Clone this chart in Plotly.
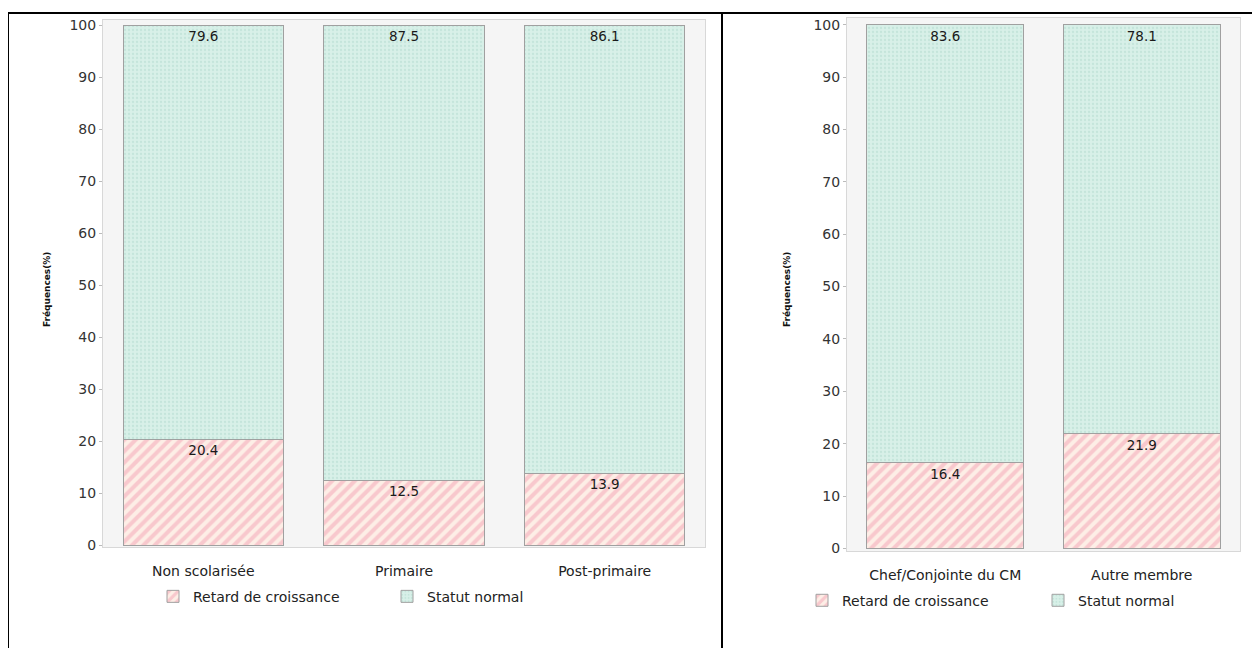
import plotly.graph_objects as go

# Data
cat_left = ["Non scolarisée", "Primaire", "Post-primaire"]
retard_left = [20.4, 12.5, 13.9]
normal_left = [79.6, 87.5, 86.1]

cat_right = ["Chef/Conjointe du CM", "Autre membre"]
retard_right = [16.4, 21.9]
normal_right = [83.6, 78.1]

series_names = ["Retard de croissance", "Statut normal"]
y_ticks = [0, 10, 20, 30, 40, 50, 60, 70, 80, 90, 100]
y_title = "Fréquences(%)"

W, H = 1260, 648
OFF = 8  # page body margin
FONT = "DejaVu Sans, Verdana, sans-serif"


def px(x):
    return (x - OFF) / W


def py(y):
    return 1 - (y - OFF) / H


pink_pat = dict(shape="/", fgcolor="#f3a2b3", bgcolor="#fdeee6", size=8, solidity=0.5)
teal_pat = dict(shape=".", fgcolor="#b1d9ce", bgcolor="#d8f0e8", size=4, solidity=0.3)


def bars(x, yr, yn, xa, ya, legs):
    common = dict(xaxis=xa, yaxis=ya, texttemplate="%{y:.1f}",
                  textposition="inside", insidetextanchor="end", textangle=0,
                  textfont=dict(size=13.5, color="#1a1a1a", family=FONT),
                  constraintext="none", cliponaxis=False)
    t1 = go.Bar(x=x, y=yr, name=series_names[0], legend=legs[0],
                marker=dict(color="#fdeee6", pattern=pink_pat,
                            line=dict(color="#a0a0a0", width=1)), **common)
    t2 = go.Bar(x=x, y=yn, name=series_names[1], legend=legs[1],
                marker=dict(color="#d8f0e8", pattern=teal_pat,
                            line=dict(color="#a0a0a0", width=1)), **common)
    return [t1, t2]


fig = go.Figure()
for t in bars(cat_left, retard_left, normal_left, "x", "y", ["legend", "legend2"]):
    fig.add_trace(t)
for t in bars(cat_right, retard_right, normal_right, "x2", "y2", ["legend3", "legend4"]):
    fig.add_trace(t)

yax = dict(tickvals=y_ticks, ticks="outside", ticklen=3, tickcolor="#bbb",
           tickfont=dict(size=14, color="#333", family=FONT), showgrid=False,
           showline=True, linecolor="#d8d8d8", mirror=True, zeroline=False, fixedrange=True)
xax = dict(tickfont=dict(size=14, color="#222", family=FONT), showline=True,
           linecolor="#d8d8d8", mirror=True, ticks="", showgrid=False, ticklabelstandoff=11)

leg_common = dict(orientation="h", xanchor="left", yanchor="middle",
                  font=dict(size=14, color="#222", family=FONT), bgcolor="rgba(0,0,0,0)")

fig.update_layout(
    width=W, height=H, margin=dict(l=0, r=0, t=0, b=0),
    paper_bgcolor="white", plot_bgcolor="#f5f5f5",
    barmode="stack", bargap=0.2,
    font=dict(family=FONT, color="#222"),
    xaxis=dict(domain=[px(103), px(705)], anchor="y", **xax),
    yaxis=dict(domain=[py(552), py(17)], anchor="x", range=[-0.4, 101], **yax),
    xaxis2=dict(domain=[px(847), px(1240)], anchor="y2", **xax),
    yaxis2=dict(domain=[py(556), py(15)], anchor="x2", range=[-0.56, 101.3], **yax),
    legend=dict(x=px(153), y=py(602), **leg_common),
    legend2=dict(x=px(387), y=py(602), **leg_common),
    legend3=dict(x=px(802), y=py(606), **leg_common),
    legend4=dict(x=px(1038), y=py(606), **leg_common),
    showlegend=True,
)

# y-axis titles
for xp, yc in [(40, 290), (787, 290)]:
    fig.add_annotation(text="<b>" + y_title + "</b>", x=px(xp), y=py(yc), xref="paper", yref="paper",
                       textangle=-90, showarrow=False, font=dict(size=9, color="#111", family=FONT))

# Document table borders
line = dict(color="black", width=2)
fig.add_shape(type="line", xref="paper", yref="paper", x0=px(8), x1=px(1258), y0=py(10), y1=py(10), line=line)
for xp in [8, 722, 1258]:
    fig.add_shape(type="line", xref="paper", yref="paper", x0=px(xp), x1=px(xp), y0=py(10), y1=0, line=line)

fig.write_html("out.html")
